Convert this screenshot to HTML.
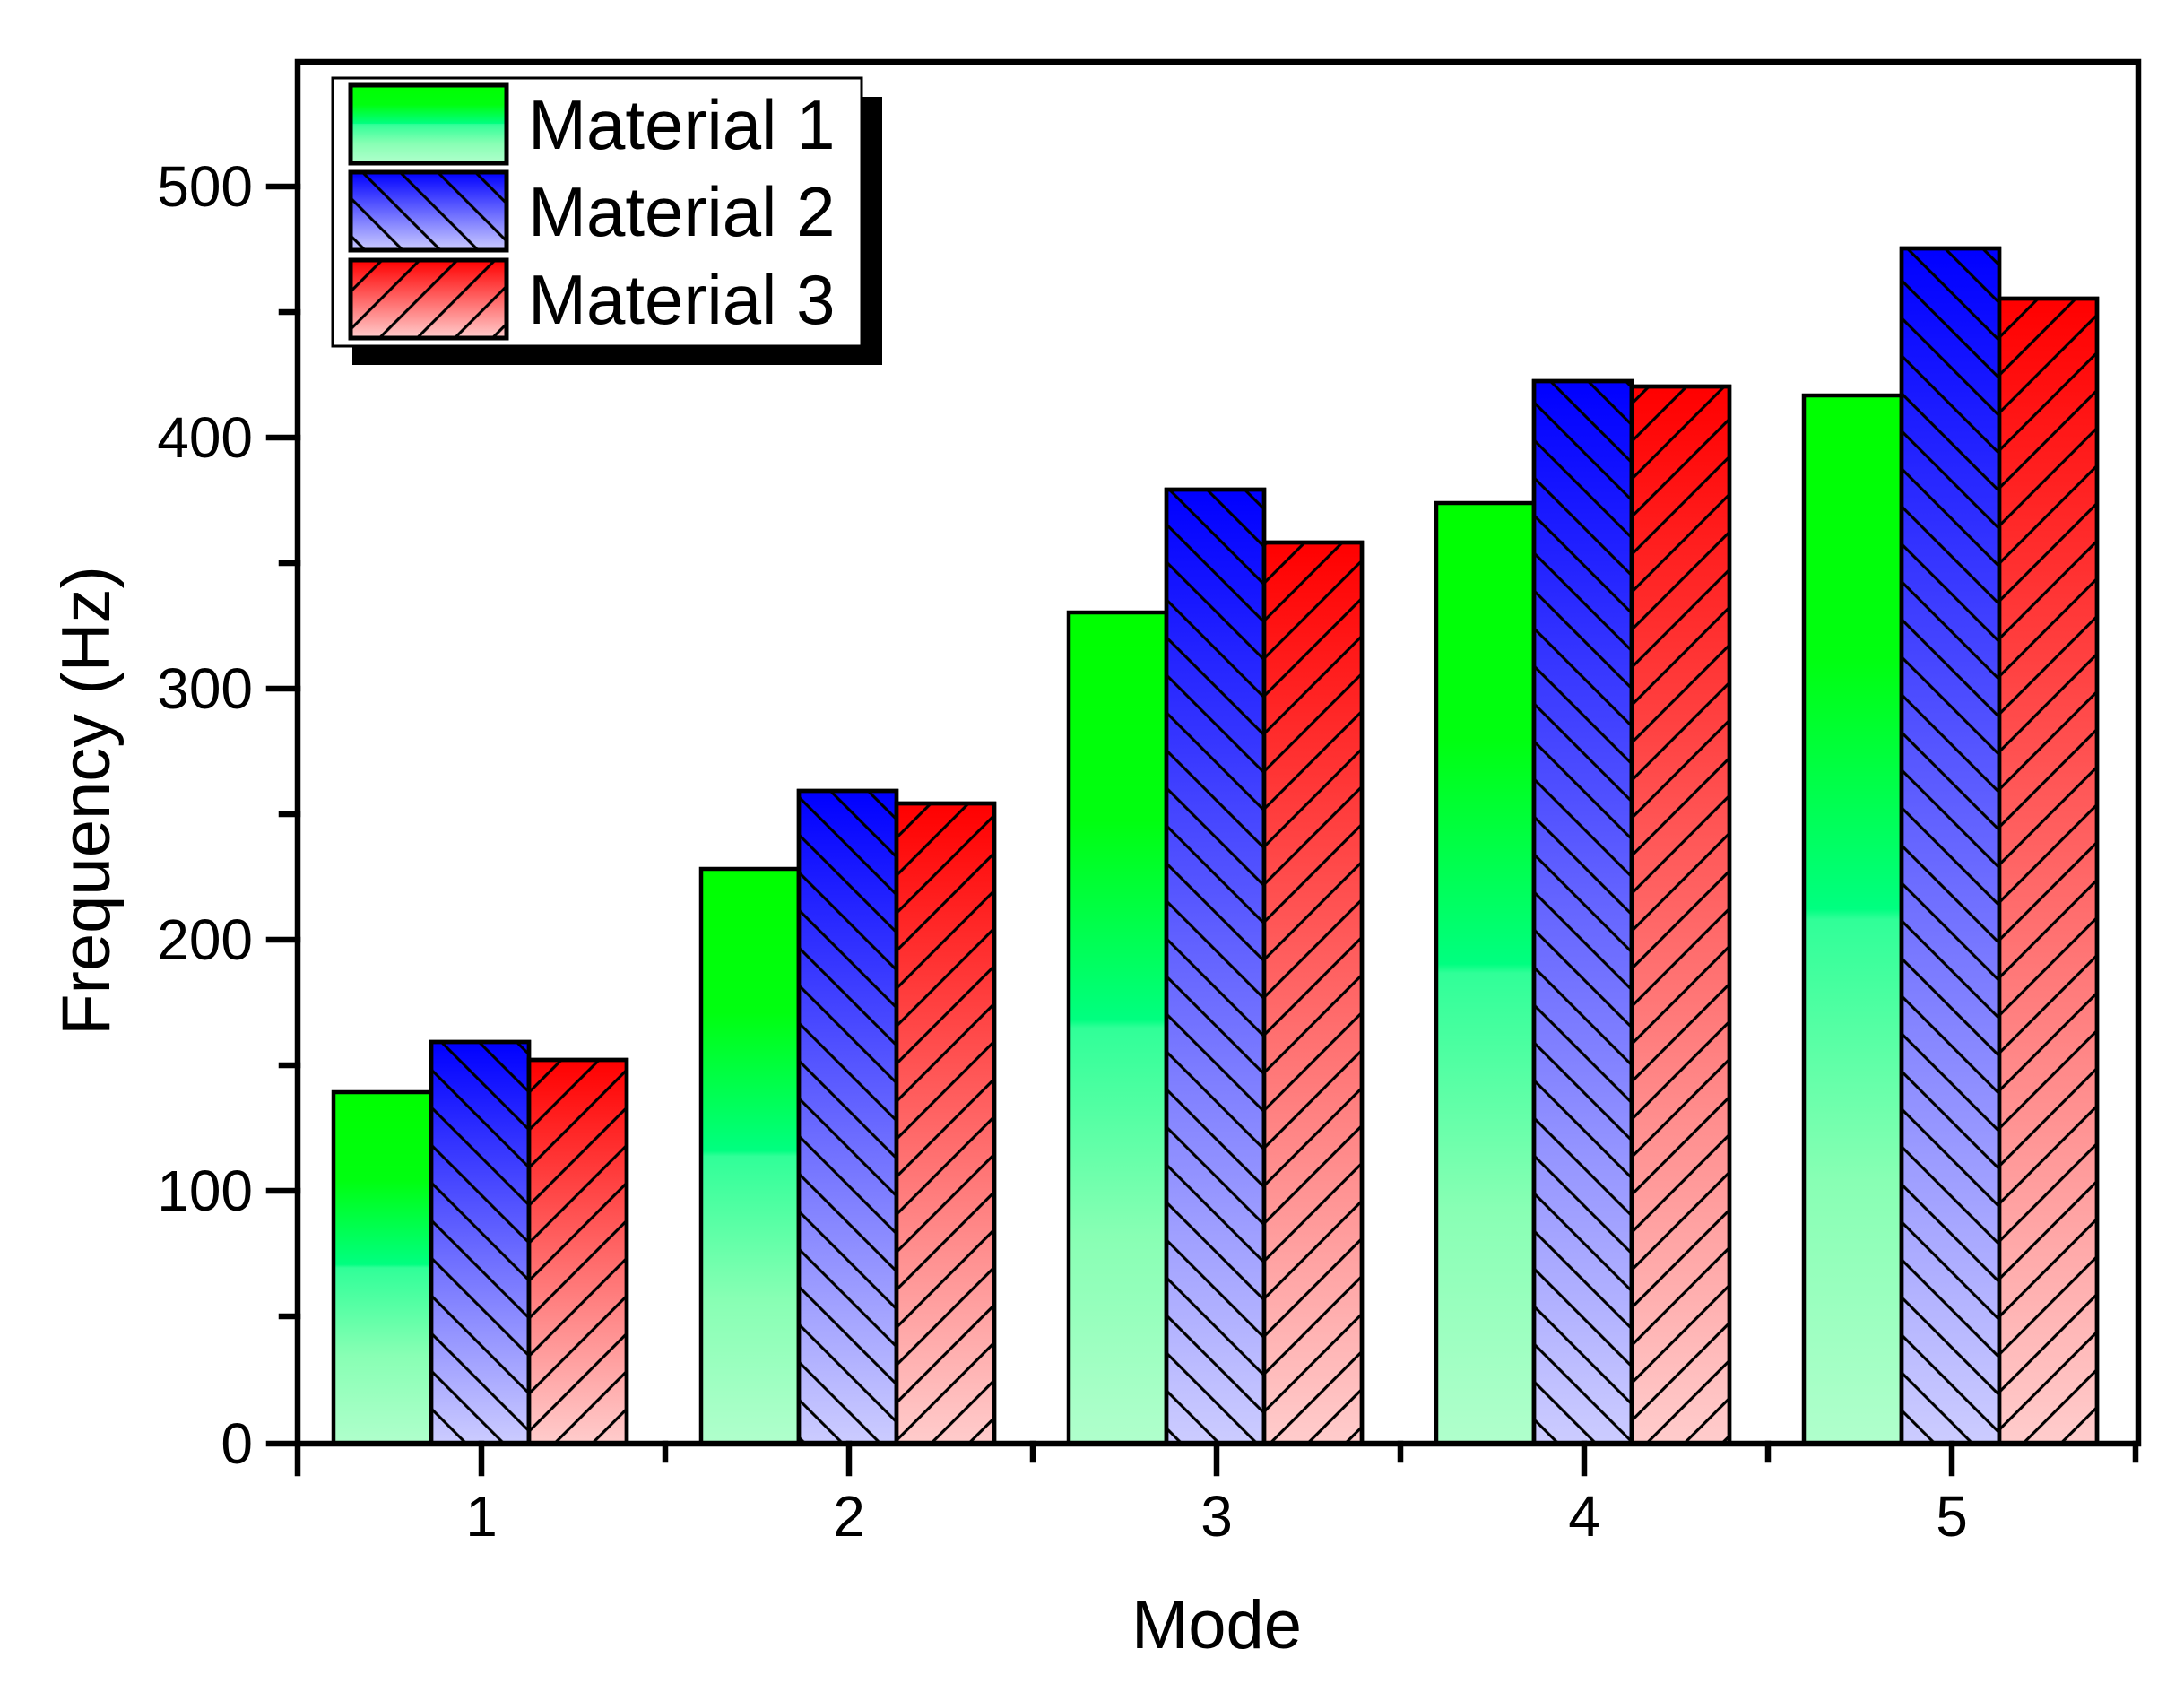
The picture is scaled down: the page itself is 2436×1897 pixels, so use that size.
<!DOCTYPE html>
<html><head><meta charset="utf-8"><style>html,body{margin:0;padding:0;background:#fff}svg{display:block}</style></head>
<body>
<svg width="2436" height="1897" viewBox="0 0 2436 1897" xmlns="http://www.w3.org/2000/svg" font-family="'Liberation Sans', sans-serif">
<defs>
<linearGradient id="gG" x1="0" y1="0" x2="0" y2="1">
<stop offset="0" stop-color="#00ff00"/><stop offset="0.25" stop-color="#00ff10"/><stop offset="0.49" stop-color="#00ff80"/><stop offset="0.5" stop-color="#30ff98"/><stop offset="0.75" stop-color="#88ffb4"/><stop offset="1" stop-color="#b0ffcc"/></linearGradient>
<linearGradient id="gB" x1="0" y1="0" x2="0" y2="1"><stop offset="0" stop-color="#0000ff"/><stop offset="1" stop-color="#ccccff"/></linearGradient>
<linearGradient id="gR" x1="0" y1="0" x2="0" y2="1"><stop offset="0" stop-color="#ff0000"/><stop offset="1" stop-color="#ffcccc"/></linearGradient>
<pattern id="hB" patternUnits="userSpaceOnUse" width="29.7" height="20" patternTransform="rotate(-45)"><line x1="1.5" y1="-5" x2="1.5" y2="25" stroke="#000" stroke-width="3.2"/></pattern>
<pattern id="hR" patternUnits="userSpaceOnUse" width="29.7" height="20" patternTransform="rotate(45)"><line x1="1.5" y1="-5" x2="1.5" y2="25" stroke="#000" stroke-width="3.2"/></pattern>
</defs>
<g stroke="#000" stroke-width="4.5">
<rect x="372" y="1218" width="109" height="392" fill="url(#gG)"/>
<rect x="481" y="1162" width="109" height="448" fill="url(#gB)"/><rect x="481" y="1162" width="109" height="448" fill="url(#hB)"/>
<rect x="590" y="1182" width="109" height="428" fill="url(#gR)"/><rect x="590" y="1182" width="109" height="428" fill="url(#hR)"/>
<rect x="782" y="969" width="109" height="641" fill="url(#gG)"/>
<rect x="891" y="882" width="109" height="728" fill="url(#gB)"/><rect x="891" y="882" width="109" height="728" fill="url(#hB)"/>
<rect x="1000" y="896" width="109" height="714" fill="url(#gR)"/><rect x="1000" y="896" width="109" height="714" fill="url(#hR)"/>
<rect x="1192" y="683" width="109" height="927" fill="url(#gG)"/>
<rect x="1301" y="546" width="109" height="1064" fill="url(#gB)"/><rect x="1301" y="546" width="109" height="1064" fill="url(#hB)"/>
<rect x="1410" y="605" width="109" height="1005" fill="url(#gR)"/><rect x="1410" y="605" width="109" height="1005" fill="url(#hR)"/>
<rect x="1602" y="561" width="109" height="1049" fill="url(#gG)"/>
<rect x="1711" y="425" width="109" height="1185" fill="url(#gB)"/><rect x="1711" y="425" width="109" height="1185" fill="url(#hB)"/>
<rect x="1820" y="431" width="109" height="1179" fill="url(#gR)"/><rect x="1820" y="431" width="109" height="1179" fill="url(#hR)"/>
<rect x="2012" y="441" width="109" height="1169" fill="url(#gG)"/>
<rect x="2121" y="277" width="109" height="1333" fill="url(#gB)"/><rect x="2121" y="277" width="109" height="1333" fill="url(#hB)"/>
<rect x="2230" y="333" width="109" height="1277" fill="url(#gR)"/><rect x="2230" y="333" width="109" height="1277" fill="url(#hR)"/>
</g>
<g stroke="#000" stroke-width="6.5" fill="none" stroke-linecap="square">
<path d="M332,69 L2385,69 L2385,1610 L300,1610 M332,69 L332,1643"/>
<path d="M300,208 H332 M300,488 H332 M300,768 H332 M300,1048 H332 M300,1328 H332"/>
<path d="M314,348 H332 M314,628 H332 M314,908 H332 M314,1188 H332 M314,1468 H332"/>
<path d="M537,1610 V1643 M947,1610 V1643 M1357,1610 V1643 M1767,1610 V1643 M2177,1610 V1643"/>
<path d="M742,1610 V1628 M1152,1610 V1628 M1562,1610 V1628 M1972,1610 V1628 M2382,1610 V1628"/>
</g>
<g font-size="64" text-anchor="end" fill="#000">
<text x="282" y="230">500</text><text x="282" y="510">400</text><text x="282" y="790">300</text><text x="282" y="1070">200</text><text x="282" y="1350">100</text><text x="282" y="1632">0</text>
</g>
<g font-size="64" text-anchor="middle" fill="#000">
<text x="537" y="1713">1</text><text x="947" y="1713">2</text><text x="1357" y="1713">3</text><text x="1767" y="1713">4</text><text x="2177" y="1713">5</text>
</g>
<text x="1357" y="1838" font-size="76" text-anchor="middle">Mode</text>
<text transform="translate(122,893) rotate(-90)" font-size="76" text-anchor="middle">Frequency (Hz)</text>
<rect x="393" y="108" width="591" height="299" fill="#000"/>
<rect x="371" y="87" width="590" height="299" fill="#fff" stroke="#000" stroke-width="3"/>
<g stroke="#000" stroke-width="5">
<rect x="391" y="95" width="174" height="87" fill="url(#gG)"/>
<rect x="391" y="192" width="174" height="87" fill="url(#gB)"/><rect x="391" y="192" width="174" height="87" fill="url(#hB)"/>
<rect x="391" y="290" width="174" height="87" fill="url(#gR)"/><rect x="391" y="290" width="174" height="87" fill="url(#hR)"/>
</g>
<g font-size="78" fill="#000">
<text x="589" y="166">Material 1</text><text x="589" y="263">Material 2</text><text x="589" y="361">Material 3</text>
</g>
</svg>
</body></html>
